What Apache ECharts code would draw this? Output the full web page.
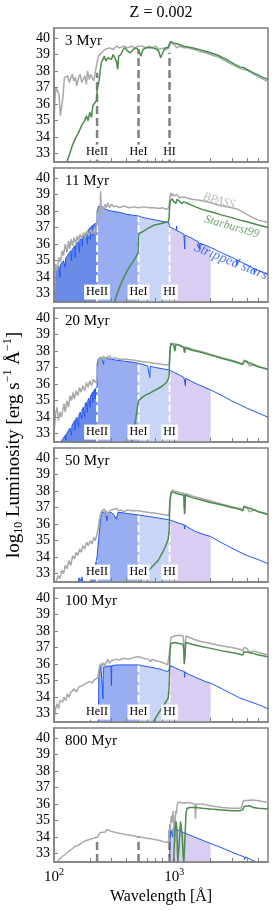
<!DOCTYPE html>
<html><head><meta charset="utf-8">
<script src="https://cdn.jsdelivr.net/npm/echarts@6/dist/echarts.min.js"></script>
<style>html,body{margin:0;padding:0;background:#fff}#c{width:274px;height:911px}</style>
</head><body><div id="c"></div>
<script>
// ---------------- data ----------------
const ages = ['3 Myr','11 Myr','20 Myr','50 Myr','100 Myr','800 Myr'];
const edges = [228, 504, 912];
const edgeNames = ['HeII','HeI','HI'];
const edgeLabelY = 33.1;
const regions = [[100,228],[228,504],[504,912],[912,2000]];
const xTicks = [100,200,300,400,500,600,700,800,900,1000,2000,3000,4000,5000];
const yTicks = [33,34,35,36,37,38,39,40];
const xMin = 100, xMax = 6000, yMin = 32.5, yMax = 40.6;

const bpass_3 = [[100,34.8],[102,36.4],[104,37.0],[107,36.9],[110,36.6],[113,35.3],[116,35.2],[119,36.5],[122,37.6],[126,37.5],[130,37.7],[134,37.3],[138,37.6],[142,37.8],[146,37.4],[150,37.6],[155,37.1],[160,37.6],[165,37.8],[170,37.3],[175,37.5],[180,37.7],[186,37.2],[190,38.0],[196,37.5],[202,37.8],[208,37.9],[214,37.4],[220,37.9],[226,37.8],[229,38.6],[234,38.9],[240,38.8],[248,39.1],[256,39.0],[265,39.3],[275,39.2],[290,39.4],[310,39.3],[330,39.5],[350,39.4],[380,39.5],[410,39.4],[440,39.5],[470,39.4],[500,39.5],[540,39.5],[580,39.4],[620,39.5],[660,39.4],[700,39.5],[750,39.3],[800,39.4],[850,39.3],[880,39.2],[905,39.4],[912,39.5],[930,39.7],[960,39.6],[1000,39.6],[1050,39.4],[1100,39.5],[1200,39.4],[1300,39.4],[1450,39.3],[1600,39.2],[1800,39.1],[2000,39.0],[2300,38.85],[2600,38.65],[3000,38.4],[3400,38.2],[3700,38.1],[4000,38.05],[4500,37.85],[5000,37.65],[5500,37.5],[6000,37.35]];
const sb99_3 = [[128,32.5],[135,33.0],[142,33.5],[150,33.9],[158,34.2],[165,34.5],[172,34.8],[180,35.0],[186,35.3],[192,35.0],[198,35.5],[205,35.2],[210,35.9],[218,36.0],[225,36.2],[229,37.0],[234,37.2],[238,37.5],[242,38.0],[247,38.5],[255,38.7],[262,38.9],[270,38.6],[280,38.8],[290,38.9],[300,38.7],[310,39.0],[320,39.1],[330,38.6],[338,38.1],[345,38.9],[360,39.0],[375,39.3],[390,39.4],[410,39.2],[430,39.1],[455,39.3],[480,39.4],[500,39.3],[515,39.1],[525,38.9],[535,38.8],[550,39.3],[580,39.4],[620,39.4],[660,39.4],[700,39.35],[740,39.2],[770,38.8],[790,38.7],[810,39.2],[840,39.4],[880,39.4],[912,39.5],[930,39.8],[970,39.7],[1050,39.65],[1200,39.5],[1400,39.4],[1600,39.3],[1800,39.2],[2000,39.1],[2300,38.95],[2700,38.7],[3100,38.45],[3500,38.25],[3800,38.2],[4000,38.1],[4500,37.9],[5000,37.75],[5500,37.6],[6000,37.5]];
const edgeTop_3 = [37.9, 39.3, 39.1];

const strip_11 = [[100,34.3],[105,34.5],[110,34.65],[111,34.7],[112,34.0],[113,34.75],[120,35.0],[123,35.1],[124,34.6],[125,35.15],[132,35.4],[138,35.6],[139,35.6],[140,35.0],[141,35.65],[145,35.75],[149,35.9],[150,35.2],[151,35.92],[160,36.15],[162,36.2],[163,35.5],[164,36.22],[168,36.3],[171,36.4],[172,35.9],[173,36.42],[185,36.7],[189,36.8],[190,36.0],[191,36.82],[195,36.9],[199,36.97],[200,36.3],[201,37.0],[205,37.05],[209,37.15],[210,36.5],[211,37.15],[215,37.2],[228,37.3],[228,38.0],[235,38.3],[245,38.25],[260,38.15],[280,38.05],[300,38.0],[330,37.95],[360,37.9],[400,37.8],[450,37.75],[504,37.7],[550,37.6],[600,37.55],[650,37.5],[700,37.45],[760,37.4],[830,37.35],[900,37.3],[912,37.3],[912,37.05],[1000,36.9],[1040,36.85],[1045,37.1],[1050,36.8],[1100,36.75],[1200,36.6],[1215,36.6],[1220,35.7],[1225,36.55],[1400,36.35],[1600,36.1],[1630,36.1],[1635,35.7],[1640,36.05],[2000,35.8],[2500,35.45],[3000,35.2],[3300,35.05],[3310,34.7],[3320,35.05],[3500,34.95],[4000,34.75],[4600,34.5],[4620,34.25],[4640,34.5],[5000,34.4],[6000,34.15]];
const bpass_11 = [[100,34.0],[101,33.2],[103,34.8],[106,34.4],[110,35.2],[113,34.9],[117,35.6],[120,35.3],[124,36.0],[128,35.5],[132,36.2],[135,35.7],[139,36.3],[143,35.9],[147,36.4],[152,36.0],[156,36.5],[160,36.2],[165,36.6],[170,36.3],[176,36.7],[182,36.4],[188,36.8],[195,36.5],[202,36.9],[210,36.6],[216,37.0],[222,36.6],[228,37.3],[232,37.9],[237,38.2],[241,37.6],[244,39.2],[247,38.0],[252,38.3],[258,38.1],[265,38.4],[272,38.2],[280,38.5],[290,38.2],[300,38.4],[315,38.25],[330,38.3],[350,38.2],[380,38.3],[420,38.2],[460,38.25],[504,38.2],[560,38.25],[620,38.2],[680,38.2],[740,38.15],[800,38.2],[860,38.1],[900,38.2],[912,38.2],[920,38.9],[935,39.1],[950,38.9],[970,39.05],[1000,38.9],[1050,39.0],[1100,38.8],[1200,38.85],[1300,38.75],[1450,38.7],[1630,38.65],[2000,38.5],[2500,38.3],[3000,38.2],[3400,38.1],[4000,37.8],[4500,37.6],[5000,37.45],[6000,37.3]];
const sb99_11 = [[318,32.5],[335,33.0],[355,33.5],[375,33.9],[400,34.3],[430,34.7],[460,35.0],[490,35.35],[500,35.5],[504,36.5],[510,36.65],[530,36.7],[560,36.8],[600,36.95],[640,37.05],[680,37.15],[730,37.2],[780,37.25],[840,37.3],[890,37.35],[905,37.6],[912,38.2],[925,38.6],[940,38.7],[960,38.75],[980,38.6],[1000,38.7],[1030,38.45],[1050,38.7],[1100,38.6],[1150,38.45],[1200,38.55],[1300,38.45],[1500,38.25],[1700,38.1],[2000,37.95],[2500,37.75],[3000,37.6],[3500,37.45],[4000,37.35],[5000,37.15],[6000,37.0]];
const edgeTop_11 = [37.2, 37.7, 37.3];

const strip_20 = [[114,32.5],[120,32.75],[124,32.9],[125,32.6],[126,32.95],[136,33.35],[139,33.45],[140,32.9],[141,33.5],[145,33.65],[149,33.8],[150,33.2],[151,33.85],[155,34.0],[159,34.1],[160,33.4],[161,34.12],[165,34.3],[169,34.4],[170,33.9],[171,34.45],[175,34.6],[179,34.7],[180,34.0],[181,34.75],[185,34.9],[189,35.0],[190,34.3],[191,35.02],[195,35.15],[199,35.25],[200,34.6],[201,35.28],[205,35.4],[209,35.5],[210,34.9],[211,35.52],[215,35.6],[219,35.7],[220,35.1],[221,35.72],[228,35.85],[228,37.2],[235,37.55],[242,37.65],[250,37.6],[258,37.2],[262,37.6],[275,37.55],[300,37.5],[330,37.45],[370,37.4],[420,37.35],[470,37.3],[504,37.25],[540,37.2],[600,37.1],[620,37.08],[625,36.4],[630,37.07],[700,37.0],[760,36.95],[830,36.9],[912,36.85],[1000,36.7],[1100,36.55],[1200,36.4],[1230,36.37],[1235,35.9],[1240,36.35],[1400,36.15],[1600,35.95],[2000,35.65],[2500,35.3],[3000,34.98],[3500,34.75],[4000,34.55],[5000,34.25],[6000,34.0]];
const bpass_20 = [[100,33.0],[103,34.2],[106,34.6],[109,33.8],[112,34.3],[115,34.0],[118,33.9],[121,34.8],[124,34.3],[128,35.0],[132,34.6],[136,35.3],[140,35.0],[144,35.5],[148,35.1],[153,35.6],[158,35.3],[163,35.8],[168,35.5],[174,35.9],[180,35.6],[186,36.1],[192,35.8],[198,36.2],[205,35.9],[212,36.3],[220,36.1],[228,36.3],[232,37.0],[238,37.5],[245,37.65],[252,37.5],[258,37.7],[265,37.4],[272,37.6],[280,37.5],[290,37.7],[300,37.55],[320,37.6],[350,37.5],[400,37.5],[450,37.45],[504,37.4],[560,37.35],[620,37.3],[700,37.25],[780,37.2],[850,37.15],[912,37.2],[920,38.0],[935,38.45],[960,38.5],[1000,38.45],[1050,38.4],[1150,38.3],[1200,38.2],[1216,37.9],[1230,38.25],[1300,38.2],[1500,38.05],[1700,37.95],[2000,37.8],[2500,37.6],[3000,37.45],[3500,37.3],[3700,37.2],[3800,37.45],[4000,37.4],[4200,37.1],[4500,37.15],[5000,37.05],[6000,36.9]];
const sb99_20 = [[440,32.5],[460,33.2],[480,34.0],[499,34.8],[504,35.0],[540,35.2],[580,35.35],[625,35.45],[680,35.6],[740,35.75],[800,35.9],[860,36.1],[890,36.3],[905,36.5],[912,37.5],[925,38.2],[940,38.45],[960,38.5],[990,38.35],[1010,38.0],[1030,38.4],[1100,38.35],[1200,38.2],[1216,37.9],[1230,38.2],[1400,38.05],[1600,37.95],[2000,37.75],[2500,37.55],[3000,37.4],[3500,37.25],[3700,37.2],[3800,37.4],[4500,37.2],[5000,37.05],[6000,36.9]];
const edgeTop_20 = [35.8, 37.25, 36.85];

const strip_50 = [[158,32.3],[161,32.75],[166,32.6],[171,32.8],[176,32.3],[200,32.3],[205,32.5],[211,33.0],[218,33.4],[225,33.8],[228,34.0],[232,34.7],[236,35.2],[240,35.8],[244,36.3],[248,36.6],[255,36.75],[262,36.8],[270,36.6],[275,36.2],[280,36.7],[290,36.75],[300,36.7],[320,36.5],[330,36.3],[340,36.7],[360,36.7],[400,36.65],[450,36.6],[504,36.55],[560,36.5],[620,36.45],[690,36.4],[760,36.35],[840,36.3],[912,36.25],[960,36.2],[1000,36.15],[1100,36.05],[1210,35.95],[1216,35.7],[1222,35.93],[1300,35.8],[1500,35.55],[1800,35.35],[2000,35.25],[2500,34.85],[3000,34.55],[3500,34.3],[4000,34.1],[5000,33.85],[6000,33.6]];
const bpass_50 = [[104,32.5],[108,32.9],[112,32.7],[116,33.2],[120,33.0],[124,33.5],[128,33.3],[133,33.8],[138,33.5],[143,34.1],[148,33.9],[153,34.3],[158,34.1],[163,34.5],[168,34.3],[174,34.7],[180,34.5],[187,34.9],[193,34.7],[200,35.0],[207,34.8],[214,35.2],[220,35.0],[228,35.4],[232,35.7],[238,36.2],[244,36.6],[250,36.8],[256,36.7],[262,36.9],[268,36.6],[274,36.8],[280,36.5],[290,36.8],[300,36.75],[315,36.9],[330,36.95],[345,36.8],[360,36.85],[380,36.75],[410,36.85],[450,36.8],[504,36.8],[560,36.75],[620,36.7],[700,36.65],[780,36.6],[850,36.55],[900,36.5],[912,36.6],[920,37.4],[935,37.9],[960,38.05],[1000,38.0],[1050,37.95],[1200,37.85],[1210,37.0],[1216,36.85],[1222,37.0],[1235,37.85],[1400,37.7],[1600,37.6],[2000,37.4],[2500,37.2],[3000,37.05],[3500,36.95],[3700,36.85],[3800,37.1],[4000,37.0],[4200,36.75],[4600,36.85],[5000,36.75],[6000,36.6]];
const sb99_50 = [[516,32.5],[560,32.9],[610,33.2],[660,33.45],[733,33.8],[800,34.3],[860,34.8],[890,35.1],[905,35.6],[912,36.6],[920,37.4],[935,37.8],[960,37.95],[1000,37.9],[1100,37.8],[1200,37.75],[1210,37.0],[1216,36.6],[1225,37.0],[1235,37.75],[1400,37.6],[1600,37.5],[2000,37.3],[2500,37.15],[3000,37.0],[3500,36.9],[3700,36.8],[3800,37.05],[4500,36.9],[5000,36.75],[6000,36.6]];
const edgeTop_50 = [33.8, 36.55, 36.25];

const strip_100 = [[234,32.5],[235,34.0],[236,35.3],[240,35.7],[245,35.9],[250,35.95],[253,34.5],[255,33.9],[257,35.8],[262,35.9],[270,35.85],[280,35.9],[298,35.9],[300,34.7],[302,35.9],[330,35.95],[380,35.95],[430,35.95],[480,35.95],[504,35.95],[540,35.9],[600,35.85],[650,35.8],[700,35.75],[760,35.7],[830,35.6],[890,35.55],[912,35.6],[935,35.9],[960,35.85],[1000,35.8],[1100,35.65],[1210,35.55],[1216,35.2],[1222,35.53],[1300,35.4],[1500,35.2],[1800,34.95],[2000,34.85],[2500,34.5],[3000,34.2],[3500,33.95],[4000,33.8],[5000,33.55],[6000,33.3]];
const bpass_100 = [[100,32.6],[103,33.3],[106,33.6],[109,33.3],[112,33.8],[115,33.9],[118,33.7],[121,34.0],[125,33.8],[129,34.2],[133,34.0],[138,34.3],[143,34.2],[148,34.5],[154,34.3],[160,34.6],[166,34.5],[172,34.7],[178,34.6],[185,34.85],[192,34.75],[200,34.95],[208,34.85],[216,35.05],[224,35.0],[232,35.2],[236,35.6],[240,35.9],[246,36.05],[252,35.8],[258,36.1],[265,35.9],[272,36.0],[280,36.3],[288,36.05],[296,36.2],[305,36.1],[315,36.25],[330,36.3],[350,36.25],[380,36.35],[420,36.3],[460,36.4],[504,36.45],[550,36.35],[600,36.3],[640,36.15],[650,36.3],[700,36.2],[760,36.15],[820,36.05],[880,35.95],[912,35.95],[920,36.9],[935,37.6],[960,37.7],[1000,37.7],[1100,37.75],[1180,37.7],[1200,37.2],[1210,36.1],[1222,36.0],[1230,37.0],[1245,37.7],[1400,37.55],[1600,37.4],[2000,37.25],[2500,37.1],[3000,37.0],[3500,36.9],[3700,36.8],[3800,37.0],[4000,36.95],[4200,36.7],[4600,36.8],[5000,36.7],[6000,36.55]];
const sb99_100 = [[667,32.5],[720,32.9],[780,33.3],[840,33.65],[890,33.95],[905,34.6],[912,35.8],[920,36.8],[935,37.25],[960,37.35],[1000,37.3],[1100,37.25],[1180,37.2],[1200,36.8],[1210,36.0],[1222,35.9],[1232,36.8],[1245,37.3],[1400,37.2],[1600,37.1],[2000,36.95],[2500,36.8],[3000,36.7],[3500,36.6],[3700,36.55],[3800,36.75],[4500,36.65],[5000,36.55],[6000,36.45]];
const edgeTop_100 = [32.5, 35.95, 35.6];

const strip_800 = [[912,32.5],[918,33.5],[925,34.2],[935,34.45],[950,34.5],[965,34.55],[970,34.0],[975,34.55],[1000,34.5],[1200,34.27],[1400,34.07],[1600,33.9],[2000,33.62],[2500,33.34],[3000,33.1],[3500,32.9],[3800,32.82],[3850,32.65],[3900,32.8],[4000,32.72],[4780,32.5]];
const bpass_800 = [[106,32.5],[112,32.7],[118,32.85],[124,32.95],[130,33.1],[136,33.2],[142,33.3],[150,33.45],[158,33.5],[166,33.6],[175,33.7],[185,33.8],[195,33.85],[205,33.9],[215,33.95],[228,34.0],[240,34.25],[250,34.3],[258,34.4],[265,34.3],[275,34.45],[285,34.35],[300,34.35],[320,34.3],[340,34.25],[370,34.2],[400,34.15],[440,34.1],[480,34.05],[530,34.0],[580,33.95],[640,33.9],[700,33.85],[760,33.8],[830,33.7],[890,33.7],[905,33.6],[912,34.4],[918,34.8],[925,34.4],[935,35.0],[945,35.3],[955,35.4],[965,34.9],[975,35.6],[985,35.2],[995,34.3],[1005,33.6],[1015,34.8],[1025,35.6],[1040,35.4],[1055,35.9],[1070,36.1],[1100,36.05],[1150,36.1],[1200,36.05],[1300,36.1],[1400,36.05],[1480,36.0],[1500,35.1],[1520,36.0],[1700,36.0],[2000,35.9],[2500,35.8],[3000,35.75],[3600,35.75],[3750,36.2],[4500,36.25],[5000,36.2],[6000,36.1]];
const sb99_800 = [[985,32.5],[1000,33.6],[1015,34.5],[1035,34.95],[1050,34.4],[1062,33.0],[1070,32.5],[1090,32.5],[1105,34.0],[1125,34.95],[1140,35.0],[1160,34.2],[1185,32.8],[1200,32.5],[1215,32.5],[1230,34.2],[1250,35.5],[1280,35.75],[1350,35.8],[1500,35.8],[1700,35.75],[2000,35.7],[2500,35.65],[3000,35.6],[3500,35.6],[3700,35.65],[3800,35.85],[4200,35.9],[4500,35.8],[5000,35.75],[6000,35.7]];
const edgeTop_800 = [34.0, 34.0, 34.5];

const annText = ['BPASS','Starburst99','Stripped stars'];
const annPos = [[2350,38.62],[3000,37.05],[2950,34.95]];

// ---------------- style ----------------
const FONT = 'Liberation Serif';
const FRAME = '#808080';
const C_GRAY = '#a9a9a9', C_GREEN = '#4b8b4e', C_BLUE = '#1f55f2';
const FILLS = ['#6a8ae8','#98aef0','#c9d5f6','#dacdf2'];
const annColor = [C_GRAY, C_GREEN, C_BLUE];
const annRot = [-15, -16, -22];
const annSize = [12, 12, 14];
const GL = 54, GW = 214, GT0 = 28, GH = 134, GSTEP = 140;

const panels = [
  {bpass: bpass_3, sb99: sb99_3, strip: null, tops: edgeTop_3, grayDash: true, labels: true},
  {bpass: bpass_11, sb99: sb99_11, strip: strip_11, tops: edgeTop_11, grayDash: false, labels: true},
  {bpass: bpass_20, sb99: sb99_20, strip: strip_20, tops: edgeTop_20, grayDash: false, labels: true},
  {bpass: bpass_50, sb99: sb99_50, strip: strip_50, tops: edgeTop_50, grayDash: false, labels: true},
  {bpass: bpass_100, sb99: sb99_100, strip: strip_100, tops: edgeTop_100, grayDash: false, labels: true},
  {bpass: bpass_800, sb99: sb99_800, strip: strip_800, tops: edgeTop_800, grayDash: true, labels: false}
];

const grids = [], xAxes = [], yAxes = [], series = [], graphics = [];
panels.forEach((p, i) => {
  const top = GT0 + i * GSTEP;
  grids.push({left: GL, top: top, width: GW, height: GH, show: true, borderColor: FRAME, borderWidth: 1.5, backgroundColor: 'transparent'});
  xAxes.push({
    type: 'log', logBase: 10, gridIndex: i, min: xMin, max: xMax, z: 10,
    axisLine: {show: true, lineStyle: {color: FRAME, width: 1.5}},
    axisTick: {show: true, inside: true, length: 4, customValues: xTicks, lineStyle: {color: FRAME, width: 1}},
    axisLabel: {
      show: i === 5, margin: 5, showMaxLabel: false,
      formatter: v => { const e = Math.round(Math.log10(v)); return Math.abs(Math.log10(v) - e) < 0.01 && (e === 2 || e === 3) ? '{b|10}{s|' + e + '}' : ''; },
      rich: {b: {fontFamily: FONT, fontSize: 15, color: '#000'}, s: {fontFamily: FONT, fontSize: 10, color: '#000', padding: [0, 0, 10, 0]}}
    },
    splitLine: {show: false}
  });
  yAxes.push({
    type: 'value', gridIndex: i, min: yMin, max: yMax, z: 10,
    axisLine: {show: true, lineStyle: {color: FRAME, width: 1.5}},
    axisTick: {show: true, inside: true, length: 4, customValues: yTicks, lineStyle: {color: FRAME, width: 1}},
    axisLabel: {customValues: yTicks, margin: 4, fontFamily: FONT, fontSize: 14, color: '#000'},
    splitLine: {show: false}
  });
  const base = {xAxisIndex: i, yAxisIndex: i, silent: true, animation: false};
  const lineBase = Object.assign({symbol: 'none'}, base);
  const ptBase = Object.assign({type: 'scatter', symbol: 'circle', symbolSize: 1, itemStyle: {color: 'rgba(0,0,0,0)'}}, base);
  if (p.strip) {
    regions.forEach((r, k) => {
      const seg = p.strip.filter(d => d[0] >= r[0] && d[0] <= r[1]);
      if (seg.length > 1) series.push(Object.assign({type: 'line', data: seg, z: 1, lineStyle: {width: 0, opacity: 0},
        areaStyle: {color: FILLS[k], opacity: 1, origin: 'start'}}, lineBase));
    });
  }
  edges.forEach((e, k) => {
    series.push(Object.assign({type: 'line', data: [[e, yMin], [e, p.tops[k]]], z: 2,
      lineStyle: p.grayDash ? {color: FRAME, width: 2.5, type: [8, 4]} : {color: '#ffffff', width: 2, type: [7, 3]}}, lineBase));
  });
  if (p.strip) series.push(Object.assign({type: 'line', data: p.strip, z: 3, lineStyle: {color: C_BLUE, width: 1}}, lineBase));
  series.push(Object.assign({type: 'line', data: p.bpass, z: 4, lineStyle: {color: C_GRAY, width: 1.5}}, lineBase));
  series.push(Object.assign({type: 'line', data: p.sb99, z: 5, lineStyle: {color: C_GREEN, width: 1.5}}, lineBase));
  if (i === 1) {
    annText.forEach((t, k) => {
      series.push(Object.assign({z: 7, data: [[annPos[k][0], annPos[k][1], t]],
        label: {show: true, position: 'inside', formatter: q => q.data[2], rotate: annRot[k], fontFamily: FONT,
          fontStyle: 'italic', fontSize: annSize[k], color: annColor[k], textBorderWidth: 0}}, ptBase));
    });
  }
  graphics.push({type: 'text', x: GL + 11, y: top + 6, silent: true,
    style: {text: ages[i], fontFamily: FONT, fontSize: 15, fill: '#000', textAlign: 'left', textVerticalAlign: 'top', align: 'left', verticalAlign: 'top'}});
});

graphics.push({type: 'text', x: GL + GW / 2, y: 13, silent: true,
  style: {text: 'Z = 0.002', fontFamily: FONT, fontSize: 16, fill: '#000', textAlign: 'center', textVerticalAlign: 'middle', align: 'center', verticalAlign: 'middle'}});
graphics.push({type: 'text', x: GL + GW / 2, y: 897, silent: true,
  style: {text: 'Wavelength [Å]', fontFamily: FONT, fontSize: 16, fill: '#000', textAlign: 'center', textVerticalAlign: 'middle', align: 'center', verticalAlign: 'middle'}});
graphics.push({type: 'text', x: 14, y: 445, rotation: Math.PI / 2, silent: true,
  style: {text: '{a|log}{sub|10}{a| Luminosity [erg s}{sup|−1}{a| Å}{sup|−1}{a|]}', fill: '#000',
    textAlign: 'center', textVerticalAlign: 'middle', align: 'center', verticalAlign: 'middle',
    rich: {a: {fontFamily: FONT, fontSize: 19, fill: '#000'}, sub: {fontFamily: FONT, fontSize: 12, fill: '#000', padding: [9, 0, 0, 0]},
      sup: {fontFamily: FONT, fontSize: 12, fill: '#000', padding: [0, 0, 13, 0]}}}});

const chart = echarts.init(document.getElementById('c'), null, {renderer: 'canvas'});
chart.setOption({animation: false, grid: grids, xAxis: xAxes, yAxis: yAxes, series: series});

// edge labels placed through each panel's own scales
const edgeLabels = [];
panels.forEach((p, i) => {
  if (!p.labels) return;
  edges.forEach((e, k) => {
    const pt = chart.convertToPixel({gridIndex: i}, [e, edgeLabelY]);
    edgeLabels.push({type: 'text', x: pt[0], y: pt[1], z: 20, silent: true,
      style: {text: edgeNames[k], fontFamily: FONT, fontSize: 12, fill: '#000', backgroundColor: '#ffffff', padding: [2, 2, 1, 2],
        textAlign: 'center', textVerticalAlign: 'middle', align: 'center', verticalAlign: 'middle'}});
  });
});
chart.setOption({graphic: graphics.concat(edgeLabels)});
</script></body></html>
